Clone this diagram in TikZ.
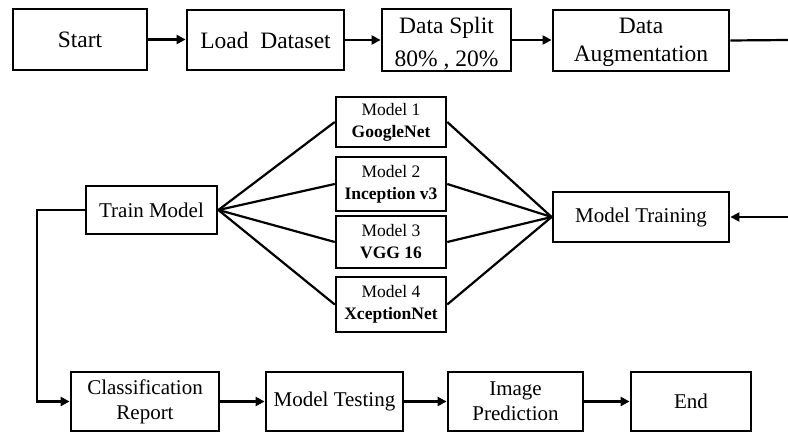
\documentclass[tikz,border=0pt]{standalone}
\usepackage{fontspec}
\setmainfont{Liberation Serif}
\usetikzlibrary{arrows.meta}
\begin{document}
\begin{tikzpicture}[x=1pt,y=-1pt,
  box/.style={draw,line width=2.8pt,inner sep=0pt,align=center,font=\fontsize{23.5}{28}\selectfont},
  midbox/.style={draw,line width=2.8pt,inner sep=0pt,align=center,font=\fontsize{21}{25}\selectfont},
  mbox/.style={draw,line width=2.5pt,inner sep=0pt,align=center,minimum width=110pt,font=\fontsize{17.5}{22}\selectfont},
  conn/.style={line width=2.2pt},
  arr/.style={conn,-{Triangle[length=9pt,width=9pt]}}]
\useasboundingbox (0,0) rectangle (788,433);
% top row
\node[box,minimum width=134pt,minimum height=61pt] (start) at (80,39.5) {Start};
\node[box,minimum width=157pt,minimum height=60pt] (load) at (265.5,40) {Load\ \ Dataset};
\node[box,minimum width=129pt,minimum height=62pt,font=\fontsize{23.5}{33}\selectfont] (split) at (446.5,40) {\rule{0pt}{23pt}Data Split\\80\% , 20\%};
\node[box,minimum width=176pt,minimum height=61pt] (aug) at (641,40.5) {\rule{0pt}{20pt}Data\\Augmentation};
% middle
\node[mbox,minimum height=50pt] (m1) at (391,122) {Model 1\\\textbf{GoogleNet}};
\node[mbox,minimum height=54pt] (m2) at (391,184) {Model 2\\\textbf{Inception v3}};
\node[mbox,minimum height=52pt] (m3) at (391,242) {Model 3\\\textbf{VGG 16}};
\node[mbox,minimum height=55pt] (m4) at (391,304.5) {Model 4\\\textbf{XceptionNet}};
\node[midbox,minimum width=131pt,minimum height=48pt] (train) at (151.5,210) {Train Model};
\node[midbox,minimum width=176pt,minimum height=50pt] (mtrain) at (641,217) {Model Training};
% bottom
\node[midbox,minimum width=148pt,minimum height=59pt] (classif) at (145,401.5) {Classification\\Report};
\node[midbox,minimum width=137pt,minimum height=59pt] (test) at (334.5,401.5) {Model Testing};
\node[midbox,minimum width=135pt,minimum height=59pt] (pred) at (515.5,401.5) {Image\\Prediction};
\node[midbox,minimum width=120pt,minimum height=59pt] (end) at (691,401.5) {End};
% coordinates
\coordinate (r1) at (788,40);
\coordinate (r2) at (788,217);
\coordinate (lc) at (37,210);
% connectors
\draw[arr] (start.east) -- (start.east -| load.west);
\draw[arr] (load.east) -- (load.east -| split.west);
\draw[arr] (split.east) -- (split.east -| aug.west);
\draw[conn] (aug.east) -- (r1);
\draw[arr] (r2) -- (mtrain.east);
\foreach \m in {m1,m2,m3,m4}{
  \draw[conn] (train.east) -- (\m.west);
  \draw[conn] (\m.east) -- (mtrain.west);
}
\draw[arr] (train.west) -- (lc) |- (classif.west);
\draw[arr] (classif.east) -- (test.west);
\draw[arr] (test.east) -- (pred.west);
\draw[arr] (pred.east) -- (end.west);
\end{tikzpicture}
\end{document}
